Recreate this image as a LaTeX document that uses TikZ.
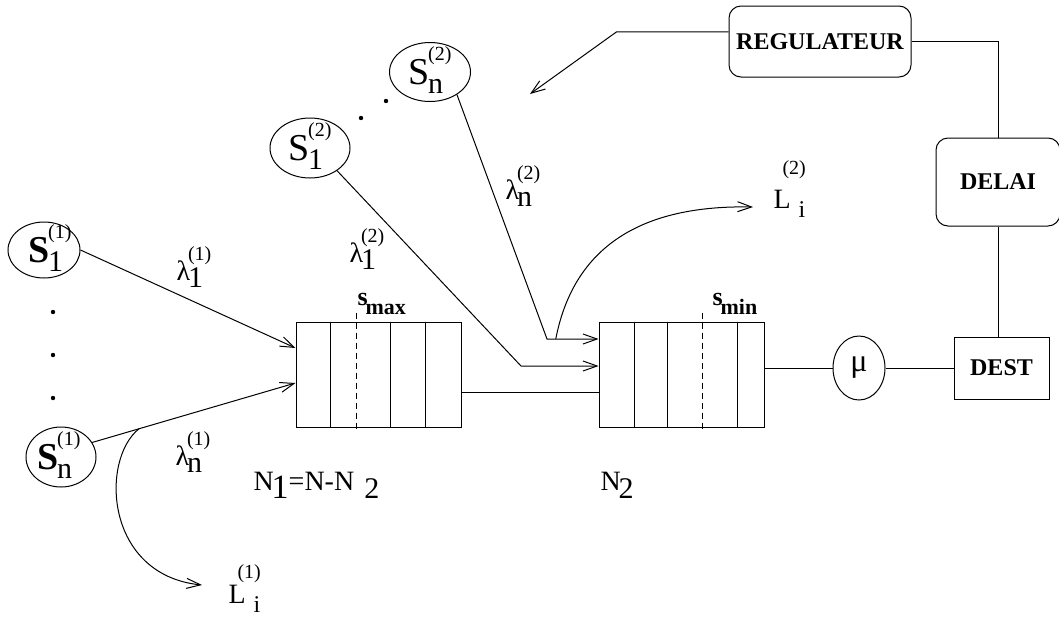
\documentclass[tikz,border=0pt]{standalone}
\usepackage{fontspec}
\setmainfont{Liberation Serif}
\usetikzlibrary{arrows.meta,shapes.geometric,calc}

% source label: box width, letter, index, class
\newcommand{\srclab}[4]{\makebox[#1][l]{#2\kern-0.5pt\rlap{\raisebox{-4.5pt}[0pt][0pt]{\fontsize{15}{15}\selectfont #3}}\raisebox{12pt}[0pt][0pt]{\fontsize{10}{10}\selectfont(#4)}}}
% arrival rate label: index, class
\newcommand{\ratelab}[2]{λ\kern-1pt\rlap{\raisebox{-3.5pt}{\fontsize{15}{15}\selectfont #1}}\raisebox{10pt}{\fontsize{10}{10}\selectfont(#2)}}
% loss label: class, raise of the class
\newcommand{\losslab}[2]{\rlap{L}\rlap{\kern12.5pt\raisebox{-4.5pt}{\fontsize{12}{12}\selectfont i}}\kern4.5pt\raisebox{#2}{\fontsize{10}{10}\selectfont(#1)}}

\begin{document}
\begin{tikzpicture}[x=0.5pt,y=-0.5pt,line width=0.5pt,>={Straight Barb[length=7pt,width=5pt]},
	src/.style={ellipse,draw,inner sep=0pt,font=\fontsize{19}{19}\selectfont},
	queue/.style={rectangle,draw,minimum width=82.5pt,minimum height=52.5pt,inner sep=0pt},
	ctrl/.style={rectangle,draw,rounded corners=6pt,inner sep=0pt,font=\fontsize{12}{12}\selectfont\bfseries},
	lbl/.style={anchor=base west,inner sep=0pt}]
	\useasboundingbox (0,0) rectangle (1059,616);

	% sources of class 1 and class 2
	\node[src,minimum width=36pt,minimum height=28pt] (s11) at (44,250) {\srclab{16pt}{\textbf{S}}{1}{1}};
	\node[src,minimum width=35pt,minimum height=30pt] (s1n) at (61,457) {\srclab{24pt}{\textbf{S}}{n}{1}};
	\node[src,minimum width=40pt,minimum height=30pt] (s21) at (310,148) {\srclab{22pt}{S}{1}{2}};
	\node[src,minimum width=40.5pt,minimum height=29.5pt] (s2n) at (430,72) {\srclab{22pt}{S}{n}{2}};
	\foreach \y in {312,355,398}
		\fill (53,\y) circle (1.1pt);
	\fill (361,118) circle (1.1pt) (386,101) circle (1.1pt);

	% the two queues
	\node[queue] (q1) at (378.5,374.5) {};
	\node[queue] (q2) at (681.5,374.5) {};
	\foreach \d in {35,95,130}
		\draw (q1.north west) ++(\d,0) -- ++(0,105);
	\foreach \d in {36,69,139}
		\draw (q2.north west) ++(\d,0) -- ++(0,105);
	\draw[dash pattern=on 3pt off 2pt] (q1.north west) ++(61,-9) -- ++(0,119);
	\draw[dash pattern=on 3pt off 2pt] (q2.north west) ++(104,-9) -- ++(0,119);
	\node[lbl] (smax) at (357,305) {{\fontsize{13}{13}\selectfont\bfseries s}\kern-1pt\raisebox{-4.5pt}{\fontsize{11}{11}\selectfont\bfseries max}};
	\node[lbl] (smin) at (712,305) {{\fontsize{13}{13}\selectfont\bfseries s}\kern-1pt\raisebox{-4.5pt}{\fontsize{11}{11}\selectfont\bfseries min}};
	\node[lbl,font=\fontsize{14}{14}\selectfont] (n1) at (253,490) {N\kern-1pt\raisebox{-4pt}{\fontsize{17}{17}\selectfont 1}=N-N\kern5pt\raisebox{-4pt}{\fontsize{15}{15}\selectfont 2}};
	\node[lbl,font=\fontsize{14}{14}\selectfont] (n2) at (600,490) {N\kern-1pt\raisebox{-4pt}{\fontsize{15}{15}\selectfont 2}};

	% server, destination and control loop
	\node[ellipse,draw,minimum width=26pt,minimum height=32pt,inner sep=0pt,font=\fontsize{16}{16}\selectfont] (mu) at (859,368) {μ};
	\node[draw,minimum width=47.5pt,minimum height=31pt,inner sep=0pt,font=\fontsize{12}{12}\selectfont\bfseries] (dest) at (1001.5,368) {DEST};
	\node[ctrl,minimum width=91pt,minimum height=35.5pt] (reg) at (820,41.5) {REGULATEUR};
	\node[ctrl,minimum width=62pt,minimum height=44pt] (delai) at (998,182) {DELAI};

	% rate and loss labels
	\node[lbl,font=\fontsize{14}{14}\selectfont] (r11) at (176,280) {\ratelab{1}{1}};
	\node[lbl,font=\fontsize{14}{14}\selectfont] (r1n) at (175,465) {\ratelab{n}{1}};
	\node[lbl,font=\fontsize{14}{14}\selectfont] (r21) at (349,262) {\ratelab{1}{2}};
	\node[lbl,font=\fontsize{14}{14}\selectfont] (r2n) at (505,199) {\ratelab{n}{2}};
	\node[lbl,font=\fontsize{14}{14}\selectfont] (loss1) at (228,603) {\losslab{1}{12.5pt}};
	\node[lbl,font=\fontsize{14}{14}\selectfont] (loss2) at (773,208) {\losslab{2}{17pt}};

	\coordinate (k21) at (521,366);
	\coordinate (k2n) at (547,339);
	\coordinate (l1to) at (202,585);
	\coordinate (l2to) at (753,207);
	\coordinate (regto) at (530,94);

	% flows
	\draw[->] (s11.east) -- ($(q1.north west)!0.25!(q1.south west)$);
	\draw[->] (s1n.25) -- coordinate[pos=0.23] (l1from) ($(q1.north west)!0.58!(q1.south west)$);
	\draw[->] (l1from) .. controls (100,460) and (105,575) .. (l1to);
	\draw[->] (s21.-40) -- (k21) -- (k21 -| q2.west);
	\draw[->] (s2n.-40) -- (k2n) -- coordinate[pos=0.17] (l2from) (k2n -| q2.west);
	\draw[->] (l2from) .. controls (575,240) and (650,205) .. (l2to);
	\draw ($(q1.north east)!0.667!(q1.south east)$) -- ($(q2.north west)!0.667!(q2.south west)$);
	\draw (q2.east |- mu) -- (mu);
	\draw (mu) -- (dest);
	\draw (delai.south) -- (delai.south |- dest.north);
	\draw (reg.east) -| (delai.north);
	\draw[->] (reg.174) -- ++(-112,0) -- (regto);
\end{tikzpicture}
\end{document}
